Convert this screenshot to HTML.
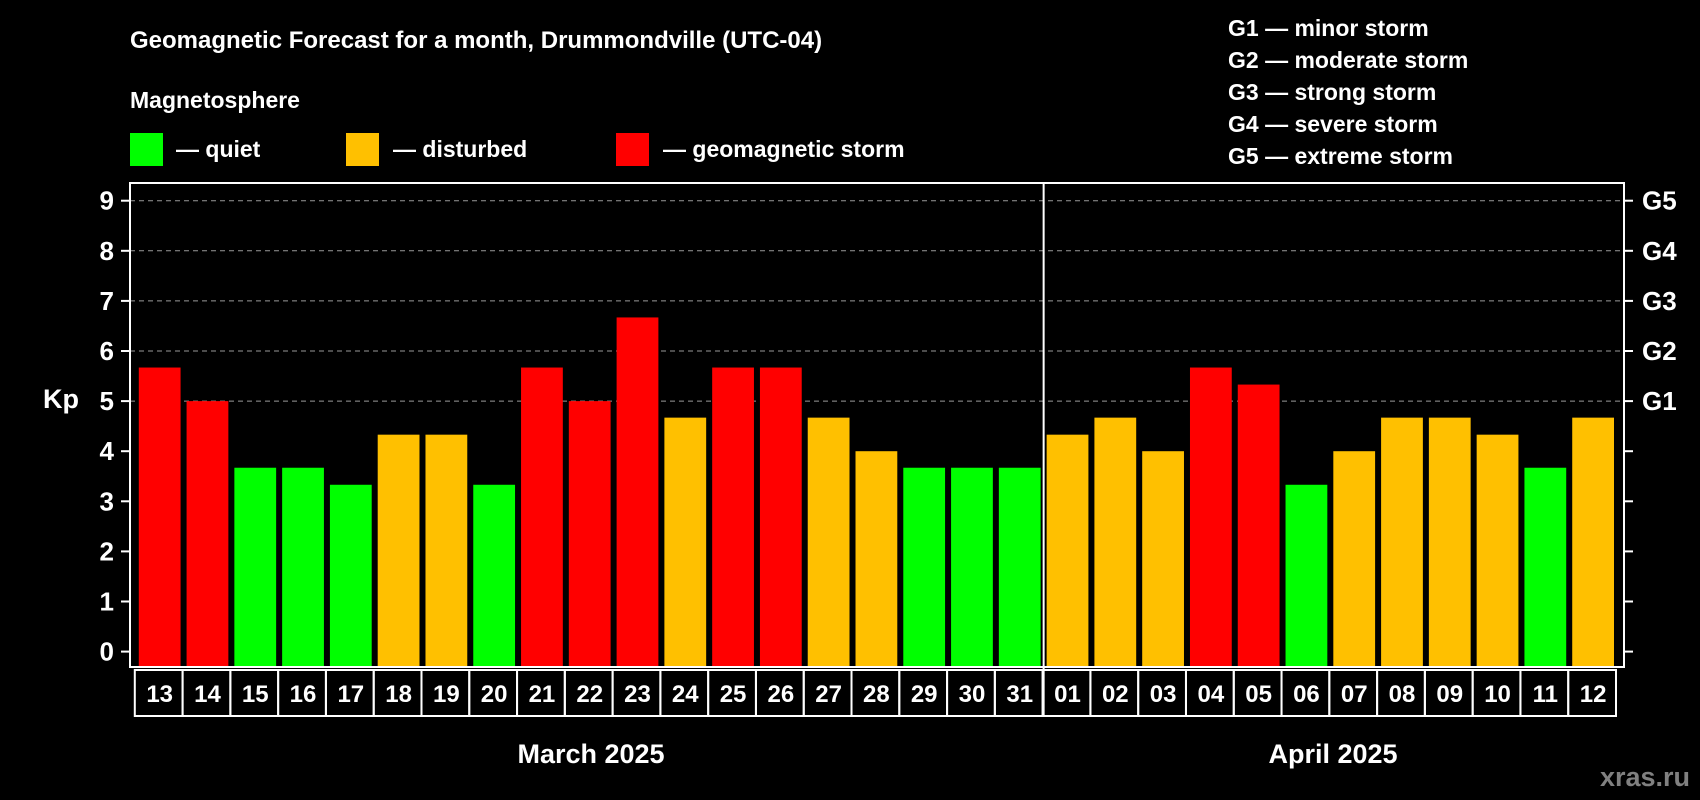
<!DOCTYPE html>
<html><head><meta charset="utf-8"><style>
html,body{margin:0;padding:0;background:#000;}
svg{display:block;font-family:"Liberation Sans",Arial,sans-serif;font-weight:bold;}
</style></head><body>
<svg id="c" width="1700" height="800" viewBox="0 0 1700 800">
<text x="130" y="48" fill="#fff" font-size="24">Geomagnetic Forecast for a month, Drummondville (UTC-04)</text>
<text x="130" y="108" fill="#fff" font-size="23">Magnetosphere</text>
<g><rect x="130" y="133" width="33" height="33" fill="#00ff00"/><text x="176" y="157" fill="#fff" font-size="23">— quiet</text></g>
<g><rect x="346" y="133" width="33" height="33" fill="#ffc000"/><text x="393" y="157" fill="#fff" font-size="23">— disturbed</text></g>
<g><rect x="616" y="133" width="33" height="33" fill="#ff0000"/><text x="663" y="157" fill="#fff" font-size="23">— geomagnetic storm</text></g>
<g fill="#fff" font-size="23">
<text x="1228" y="36">G1 — minor storm</text>
<text x="1228" y="68">G2 — moderate storm</text>
<text x="1228" y="100">G3 — strong storm</text>
<text x="1228" y="132">G4 — severe storm</text>
<text x="1228" y="164">G5 — extreme storm</text>
</g>
<text x="43" y="408" fill="#fff" font-size="27">Kp</text>
<text x="591" y="763" fill="#fff" font-size="27" text-anchor="middle">March 2025</text>
<text x="1333" y="763" fill="#fff" font-size="27" text-anchor="middle">April 2025</text>
<text x="1690" y="786" fill="#808080" font-size="27" text-anchor="end">xras.ru</text>
<g id="plot"></g>
</svg>
<script>
const days=["13","14","15","16","17","18","19","20","21","22","23","24","25","26","27","28","29","30","31","01","02","03","04","05","06","07","08","09","10","11","12"];
const kp=[5.67,5,3.67,3.67,3.33,4.33,4.33,3.33,5.67,5,6.67,4.67,5.67,5.67,4.67,4,3.67,3.67,3.67,4.33,4.67,4,5.67,5.33,3.33,4,4.67,4.67,4.33,3.67,4.67];
const yTicks=[0,1,2,3,4,5,6,7,8,9];
const gLabels=["G1","G2","G3","G4","G5"];
const gLevels=[5,6,7,8,9];
const NS="http://www.w3.org/2000/svg";
const g=document.getElementById('plot');
const L=130,R=1624,T=183,B=667,Y0=651.6,UNIT=50.1;
const y=v=>Y0-v*UNIT;
const pitch=(1620-138.8)/days.length;
const x=i=>138.8+i*pitch;
function mk(tag,attrs){const e=document.createElementNS(NS,tag);for(const k in attrs)e.setAttribute(k,attrs[k]);g.appendChild(e);return e;}
yTicks.forEach(t=>{
  if(t>=5){const l=mk('line',{x1:L,x2:R,y1:y(t),y2:y(t),stroke:'#999','stroke-dasharray':'5,4','stroke-width':1});
  
  }
  const a=mk('line',{x1:L-9,x2:L,y1:y(t),y2:y(t),stroke:'#fff','stroke-width':2});
  
  
  const b=mk('line',{x1:R,x2:R+9,y1:y(t),y2:y(t),stroke:'#fff','stroke-width':2});
  
  
  const tx=mk('text',{x:114,y:y(t)+9,fill:'#fff','font-size':26,'text-anchor':'end'});
  tx.textContent=t;
  
  
});
gLabels.forEach((s,i)=>{
  const tx=mk('text',{x:1642,y:y(gLevels[i])+9,fill:'#fff','font-size':26});
  tx.textContent=s;
  
  
});
kp.forEach((v,i)=>{
  const c=v<4?'#00ff00':(v<5?'#ffc000':'#ff0000');
  const r=mk('rect',{x:x(i),y:y(v),width:pitch-6,height:B-y(v),fill:c});
  
  
  const cell=mk('rect',{x:x(i)-4,y:670,width:pitch,height:46,fill:'none',stroke:'#fff','stroke-width':2});
  
  
  const t=mk('text',{x:x(i)+(pitch-6)/2,y:702,fill:'#fff','font-size':24,'text-anchor':'middle'});
  t.textContent=days[i];
  
  
});
const fr=mk('rect',{x:L,y:T,width:R-L,height:B-T,fill:'none',stroke:'#fff','stroke-width':2});


const mi=days.indexOf("01");
const dv=mk('line',{x1:x(mi)-3,x2:x(mi)-3,y1:T,y2:716,stroke:'#fff','stroke-width':2});


</script>
</body></html>
